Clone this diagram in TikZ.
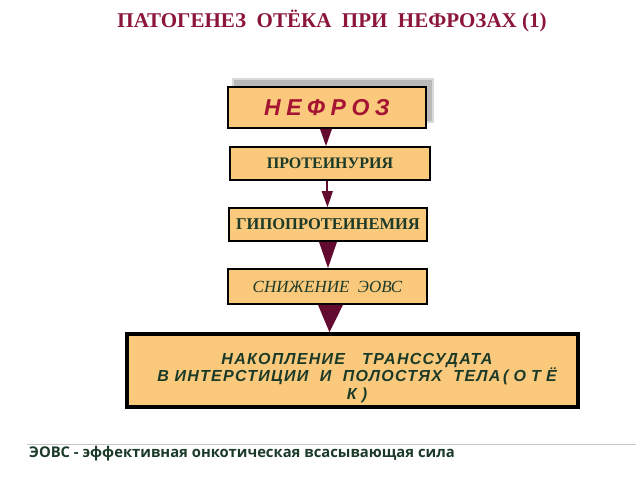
\documentclass[tikz,border=0pt]{standalone}
\usepackage{fontspec}
\setmainfont{Liberation Serif}
\newfontfamily\sansf{Liberation Sans}
\newfontfamily\gillf{Open Sans}
\usetikzlibrary{arrows.meta}
\definecolor{boxfill}{RGB}{250,201,124}
\definecolor{titlered}{RGB}{140,22,58}
\definecolor{nefred}{RGB}{165,20,50}
\definecolor{txtgreen}{RGB}{28,58,40}
\definecolor{arrowc}{RGB}{98,10,48}
\tikzset{
  x=1pt, y=-1pt,
  stepbox/.style={draw=black, line width=1.8pt, fill=boxfill, inner sep=0pt},
}
\begin{document}
\begin{tikzpicture}
\useasboundingbox[fill=white] (0,0) rectangle (640,480);
% title
\node[text=titlered, font=\fontsize{21}{24}\selectfont\bfseries] (title) at (332,21) {ПАТОГЕНЕЗ\ \ ОТЁКА\ \ ПРИ\ \ НЕФРОЗАХ (1)};
% shadow of first box
\fill[gray!30] (232,78) rectangle (434,123);
\fill[gray!55] (234,80) rectangle (432,121);
% boxes
\node[stepbox, minimum width=198pt, minimum height=41pt] (nef) at (327,107.5)
  {\sansf\fontsize{23}{26}\selectfont\bfseries\itshape\addfontfeatures{LetterSpace=24}\color{nefred}НЕФРОЗ};
\node[stepbox, minimum width=200pt, minimum height=33pt] (prot) at (330,163.5)
  {\fontsize{16}{18}\selectfont\bfseries\color{txtgreen}ПРОТЕИНУРИЯ};
\node[stepbox, minimum width=198pt, minimum height=33pt] (gipo) at (328,224.5)
  {\fontsize{16.5}{18}\selectfont\bfseries\color{txtgreen}ГИПОПРОТЕИНЕМИЯ};
\node[stepbox, minimum width=199pt, minimum height=35pt] (snij) at (327.5,286.5)
  {\fontsize{17}{19}\selectfont\itshape\color{txtgreen}СНИЖЕНИЕ\ \ ЭОВС};
\node[draw=black, line width=3.5pt, fill=boxfill, minimum width=451pt, minimum height=73pt, inner sep=0pt] (nak) at (352.5,370.5) {};
\node[align=center, text=txtgreen, font=\sansf\fontsize{16}{17.5}\selectfont\bfseries\itshape\addfontfeatures{LetterSpace=8}] (naktxt) at (357,378)
  {НАКОПЛЕНИЕ\ \ \ ТРАНССУДАТА\\В ИНТЕРСТИЦИИ\ \ И\ \ ПОЛОСТЯХ\ \ ТЕЛА\,{\addfontfeatures{LetterSpace=32}(ОТЁ}\\{\addfontfeatures{LetterSpace=32}К)}};
% arrows
\fill[arrowc] (nef.south -| 320,0) -- (nef.south -| 332,0) -- (prot.north -| 326,0) -- cycle;
\draw[arrowc, line width=1.6pt] (prot.south -| 327,0) -- (327,192);
\fill[arrowc] (321.5,191) -- (333,191) -- (gipo.north -| 327.5,0) -- cycle;
\fill[arrowc] (gipo.south -| 319,0) -- (gipo.south -| 337,0) -- (snij.north -| 328,0) -- cycle;
\fill[arrowc] (snij.south -| 318,0) -- (snij.south -| 343,0) -- (nak.north -| 329.5,0) -- cycle;
% footnote
\coordinate (la) at (27,444);
\coordinate (lb) at (636,444);
\draw[gray!45, line width=0.8pt] (la) -- (lb);
\node[anchor=west, text=txtgreen, font=\gillf\fontsize{14.8}{16}\selectfont\bfseries, inner sep=0pt] (foot) at (29,453.5) {ЭОВС - эффективная онкотическая всасывающая сила};
\end{tikzpicture}
\end{document}
